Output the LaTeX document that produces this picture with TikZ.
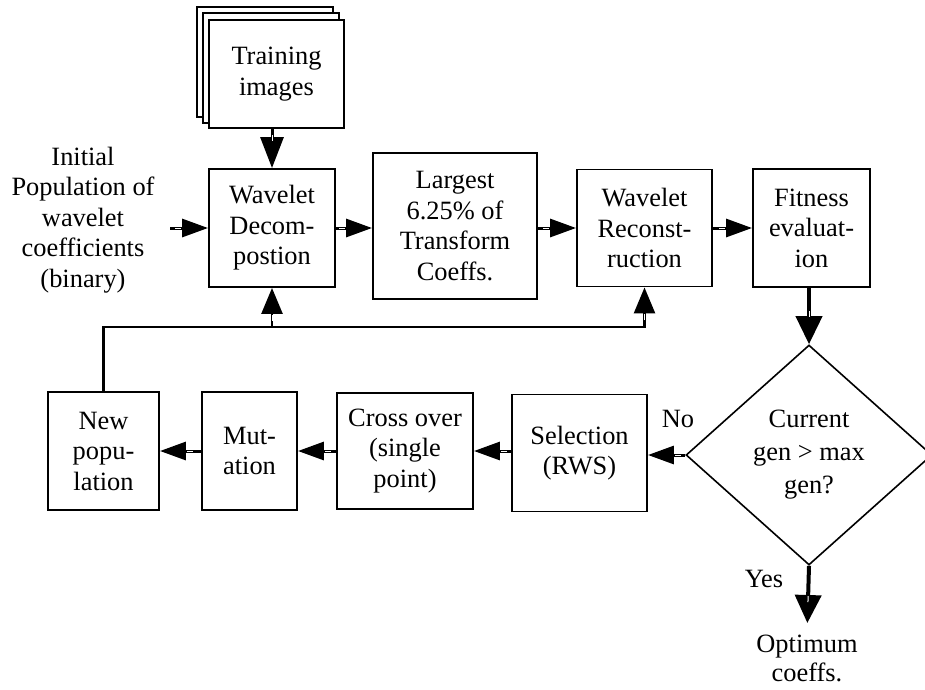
\documentclass[tikz,border=0pt]{standalone}
\usepackage{fontspec}
\setmainfont{Liberation Serif}
\usetikzlibrary{arrows.meta,shapes.geometric,decorations.markings,calc}
\begin{document}
\begin{tikzpicture}[x=1pt,y=-1pt,
  every node/.style={font=\fontsize{26.4}{30.5}\selectfont, align=center, inner sep=0pt},
  block/.style={draw, line width=1.9pt, fill=white},
  % connector: heavy stem, solid triangular head, small light tick before the head
  conn/.style={line width=3pt, -{Triangle[length=26pt,width=18pt]},
    postaction={decorate},
    decoration={markings, mark=at position -27pt with
      {\draw[white,line width=1pt,-] (-6pt,0)--(0pt,0);}}},
  upconn/.style={conn, line width=2.6pt, -{Triangle[length=26pt,width=21pt]}},
  bigconn/.style={conn, line width=3pt, -{Triangle[length=31pt,width=23pt]}},
  bold/.style={conn, line width=4pt, -{Triangle[length=28pt,width=26pt]}}]

\useasboundingbox (0,0) rectangle (925,689);
\clip (0,0) rectangle (925,689);

% stacked training images
\node[block, minimum width=136pt, minimum height=110pt] (tb2) at (265,62) {};
\node[block, minimum width=136pt, minimum height=110pt] (tb1) at (271,68) {};
\node[block, minimum width=135pt, minimum height=108pt] (train) at (276.5,74) {Training\\images};

% upper row
\node (init) at (83,220) {Initial\\Population of\\wavelet\\coefficients\\(binary)};
\coordinate (inA) at (170,228);
\node[block, minimum width=126pt, minimum height=118pt] (dec) at (272,228) {Wavelet\\Decom-\\postion};
\node[block, minimum width=164pt, minimum height=146pt] (larg) at (455,226) {Largest\\6.25\% of\\Transform\\Coeffs.};
\node[block, minimum width=135pt, minimum height=117pt] (rec) at (644.5,228) {Wavelet\\Reconst-\\ruction};
\node[block, minimum width=117pt, minimum height=118pt] (fit) at (811.5,228) {Fitness\\evaluat-\\ion};

% decision
\node[draw, diamond, line width=1.6pt, minimum width=246pt, minimum height=220pt,
  font=\fontsize{26.4}{33}\selectfont] (dia) at (809,455) {Current\\gen > max\\gen?};

% lower row
\node[block, minimum width=135pt, minimum height=117pt] (sel) at (579.5,453) {Selection\\(RWS)};
\node[block, minimum width=136pt, minimum height=116pt] (cross) at (405,451) {Cross over\\(single\\point)};
\node[block, minimum width=95pt, minimum height=118pt] (mut) at (249.5,451) {Mut-\\ation};
\node[block, minimum width=111pt, minimum height=118pt] (newp) at (103.5,451) {New\\popu-\\lation};

% labels
\node[anchor=base] (no) at (678,427) {No};
\node[anchor=base] (yes) at (764,587) {Yes};
\node[anchor=north, font=\fontsize{26.4}{29}\selectfont] (opt) at (807,635) {Optimum\\coeffs.};

% connectors
\draw[bigconn] (dec.north |- train.south) -- (dec.north);
\draw[conn] (inA) -- (inA -| dec.west);
\draw[conn] (dec.east) -- (dec.east -| larg.west);
\draw[conn] (larg.east |- rec.west) -- (rec.west);
\draw[conn] (rec.east) -- (fit.west);
\draw[bold] (dia.north |- fit.south) -- (dia.north);
\draw[bold, shorten >=12pt] (dia.south) -- (opt.north);
\draw[conn] (dia.west) -- (dia.west -| sel.east);
\draw[conn] (sel.west |- cross.east) -- (cross.east);
\draw[conn] (cross.west) -- (mut.east);
\draw[conn] (mut.west) -- (newp.east);

% feedback loop
\coordinate (fb) at (0,327);
\draw[upconn] (newp.north) -- (newp.north |- fb) -- (rec.south |- fb) -- (rec.south);
\draw[upconn] (dec.south |- fb) -- (dec.south);
\end{tikzpicture}
\end{document}
